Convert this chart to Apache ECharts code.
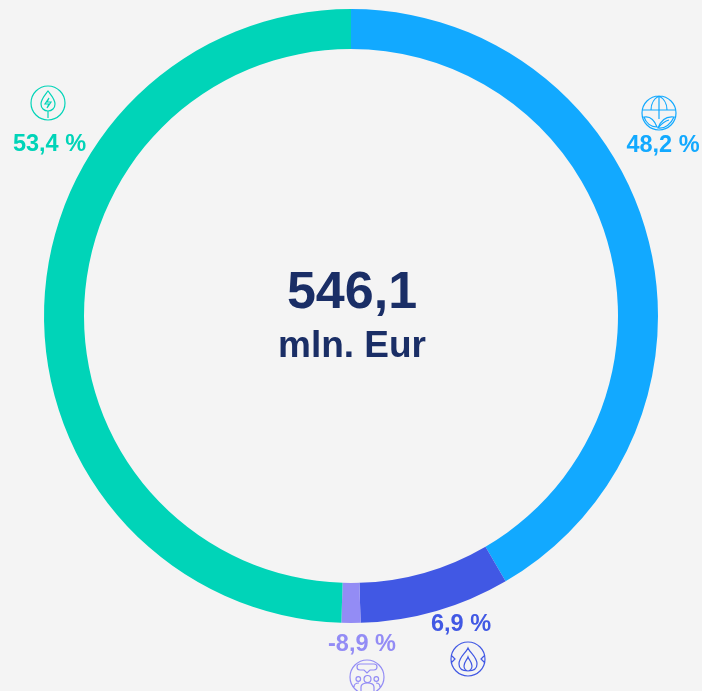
<!DOCTYPE html>
<html>
<head>
<meta charset="utf-8">
<script src="https://cdn.jsdelivr.net/npm/echarts@6/dist/echarts.min.js"></script>
<style>
  html, body { margin: 0; padding: 0; background: #f4f4f4; }
  #chart { width: 702px; height: 691px; }
</style>
</head>
<body>
<div id="chart"></div>
<script>
// share of the ring, read off the arcs (the printed labels do not add up to them)
const categories = ['blue', 'indigo', 'purple', 'green']
const arcShares = [41.6, 7.9, 1.0, 49.5]
const valueLabels = ['48,2 %', '6,9 %', '-8,9 %', '53,4 %']
const colors = ['#12a9ff', '#4158e4', '#938cf5', '#00d4b8']
const labelPos = [[663, 146], [461, 625], [362, 645], [49.5, 145]]
const iconPos = [[659, 113], [468, 659], [367, 677], [48, 103]]
const centerValue = '546,1'
const centerUnit = 'mln. Eur'

const ring = 'M-17 0A17 17 0 1 1 17 0A17 17 0 1 1 -17 0Z '
const iconPaths = [
  // globe with leaves
  ring + 'M-16.5 -3H16.5M0 -17V6M-8 -3C-8 -10 -4 -15 0 -17C4 -15 8 -10 8 -3M-15 4C-10 3 -5 6 -2 14C-8 14 -13 10 -15 4ZM15 4C8 3 2 7 -1 15C6 16 12 11 15 4ZM-1 15C3 10 6 8 10 7',
  // flame with arrows
  ring + 'M0 -11C2 -6 9 -2 9 5C9 10 5 12 0 12C-5 12 -9 10 -9 5C-9 -2 -2 -6 0 -11ZM0 -2C1 1 4 3 4 7C4 10 2 12 0 12C-2 12 -4 10 -4 7C-4 3 -1 1 0 -2ZM-17 -4L-13 0L-17 4M17 -4L13 0L17 4',
  // people with a speech bubble
  ring + 'M-7 -13H7C11 -13 11 -7 7 -7H3L0 -4L-3 -7H-7C-11 -7 -11 -13 -7 -13ZM-3 2A3.5 3.5 0 1 1 4 2A3.5 3.5 0 1 1 -3 2ZM-6 14V10C-6 7 -3 6 0.5 6C4 6 7 7 7 10V14M-11 2A2.3 2.3 0 1 1 -6.4 2A2.3 2.3 0 1 1 -11 2ZM7 2A2.3 2.3 0 1 1 11.6 2A2.3 2.3 0 1 1 7 2ZM-13 10C-13 7 -11 6 -8 6M13 10C13 7 11 6 9 6',
  // leaf with a bolt
  ring + 'M0 -12C3 -8 7 -4 7 1C7 5 4 8 0 8C-4 8 -7 5 -7 1C-7 -4 -3 -8 0 -12ZM0 8V15M1 -5L-3 1H1L-1 5L3 -1H-1Z'
]

const chart = echarts.init(document.getElementById('chart'))
chart.setOption({
  backgroundColor: '#f4f4f4',
  animation: false,
  title: {
    text: centerValue,
    subtext: centerUnit,
    left: 347,
    textAlign: 'center',
    top: 263,
    itemGap: 8,
    textStyle: { fontFamily: 'Liberation Sans', fontSize: 52, fontWeight: 'bold', color: '#1a2e66' },
    subtextStyle: { fontFamily: 'Liberation Sans', fontSize: 37, fontWeight: 'bold', color: '#1a2e66' }
  },
  series: [
    {
      type: 'pie',
      center: [351, 316],
      radius: [267, 307],
      startAngle: 90,
      clockwise: true,
      silent: true,
      itemStyle: { borderWidth: 0 },
      label: { show: false },
      labelLine: { show: false },
      data: categories.map((name, i) => ({
        name: name,
        value: arcShares[i],
        itemStyle: { color: colors[i] }
      }))
    },
    {
      // icons and value labels: graphic has no path element, and the pie drops
      // outside labels when there is no room next to the ring
      type: 'custom',
      coordinateSystem: 'none',
      silent: true,
      data: categories,
      renderItem: (params) => {
        const i = params.dataIndex
        return {
          type: 'group',
          children: [
            {
              type: 'path',
              x: iconPos[i][0],
              y: iconPos[i][1],
              shape: { pathData: iconPaths[i], x: -17, y: -17, width: 34, height: 34, layout: 'cover' },
              style: { fill: 'none', stroke: colors[i], lineWidth: 1.2 }
            },
            {
              type: 'text',
              x: labelPos[i][0],
              y: labelPos[i][1],
              style: {
                text: valueLabels[i],
                fill: colors[i],
                font: 'bold 23.5px "Liberation Sans"',
                align: 'center',
                verticalAlign: 'middle'
              }
            }
          ]
        }
      }
    }
  ]
})
</script>
</body>
</html>
